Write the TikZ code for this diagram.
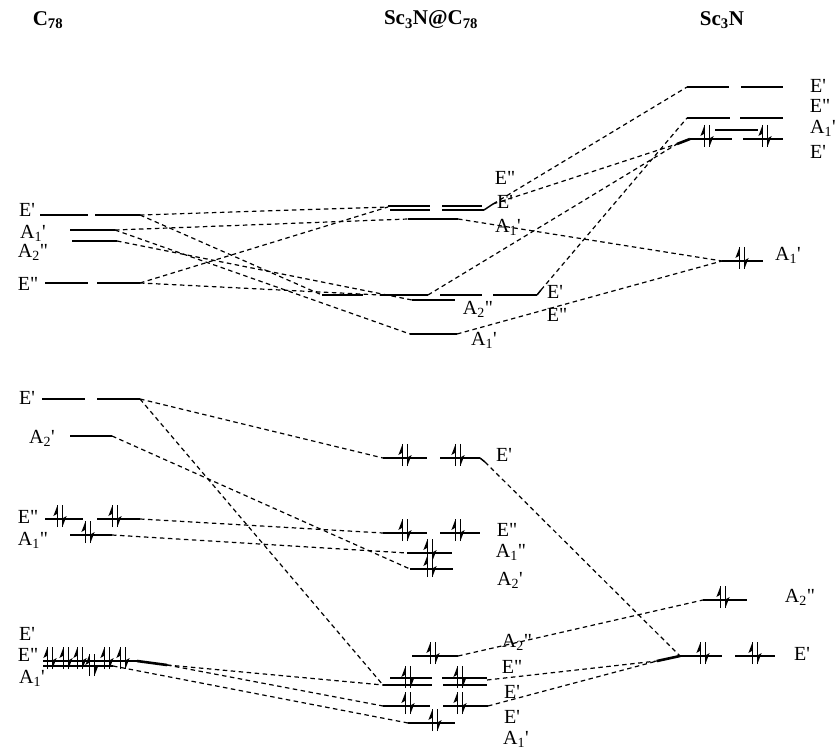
\documentclass[tikz,border=0pt]{standalone}
\usepackage{fontspec}
\setmainfont{Liberation Serif}[Ligatures=TeXOff]
\newcommand\pr{'}
\newcommand\ppr{"}
\begin{document}
\begin{tikzpicture}[x=1pt,y=-1pt,
  lvl/.style={line width=1.5pt},
  thk/.style={line width=2.6pt},
  conn/.style={line width=1.2pt,dash pattern=on 4.5pt off 3.5pt},
  lab/.style={font=\fontsize{20}{21}\selectfont,inner sep=0pt},
  hdr/.style={font=\fontsize{21}{22}\selectfont\bfseries,inner sep=0pt},
  epair/.pic={
    \draw[line width=1.2pt] (-2.4,8) -- (-2.4,-14);
    \fill (-2.4,-14) -- (-6.6,-3) -- (-2.4,-5.5) -- cycle;
    \draw[line width=1.2pt] (2.4,-14) -- (2.4,8);
    \fill (2.4,8) -- (6.6,-3) -- (2.4,-0.5) -- cycle;
  }]
\useasboundingbox (0,0) rectangle (836,751);
% headers
\node[hdr] (h1) at (48,20) {C\textsubscript{78}};
\node[hdr] (h2) at (431,20) {Sc\textsubscript{3}N@C\textsubscript{78}};
\node[hdr] (h3) at (722,20) {Sc\textsubscript{3}N};

% ---------- C78 levels ----------
\draw[lvl] (40,215)--(88,215) (95,215)--(140,215);
\draw[lvl] (70,230)--(115,230);
\draw[lvl] (72,241)--(117,241);
\draw[lvl] (45,283)--(88,283) (97,283)--(140,283);
\draw[lvl] (42,399)--(85,399) (97,399)--(140,399);
\draw[lvl] (70,436)--(112,436);
\draw[lvl] (45,519)--(83,519) (97,519)--(140,519);
\draw[lvl] (70,535)--(112,535);
\draw[lvl] (43,661)--(137,661) (43,666)--(113,666);
\draw[thk] (137,661)--(167,665);
\pic at (60,519) {epair}; \pic at (115,519) {epair}; \pic at (88,535) {epair};
\foreach \x in {50,66,80,107,123} \pic at (\x,661) {epair};
\pic at (92,668) {epair};

\node[lab] (l1) at (27,210) {E\pr};
\node[lab] (l2) at (33,233) {A\textsubscript{1}\pr};
\node[lab] (l3) at (33,252) {A\textsubscript{2}\ppr};
\node[lab] (l4) at (28,284) {E\ppr};
\node[lab] (l5) at (27,398) {E\pr};
\node[lab] (l6) at (42,438) {A\textsubscript{2}\pr};
\node[lab] (l7) at (28,517) {E\ppr};
\node[lab] (l8) at (33,540) {A\textsubscript{1}\ppr};
\node[lab] (l9) at (27,634) {E\pr};
\node[lab] (l10) at (28,655) {E\ppr};
\node[lab] (l11) at (32,678) {A\textsubscript{1}\pr};

% ---------- Sc3N@C78 levels ----------
\draw[lvl] (388,206)--(430,206) (442,206)--(482,206);
\draw[lvl] (390,210)--(430,210) (442,210)--(484,210);
\draw[lvl] (484,210)--(493,204);
\draw[lvl] (408,219)--(458,219);
\draw[lvl] (322,295)--(363,295) (380,295)--(428,295) (440,295)--(482,295) (493,295)--(537,295);
\draw[lvl] (537,295)--(541,290);
\draw[lvl] (412,300)--(455,300);
\draw[lvl] (410,334)--(457,334);
\draw[lvl] (383,458)--(427,458) (440,458)--(480,458);
\draw[lvl] (480,458)--(485,462);
\draw[lvl] (383,533)--(427,533) (440,533)--(480,533);
\draw[lvl] (407,553)--(452,553);
\draw[lvl] (410,569)--(453,569);
\draw[lvl] (412,656)--(458,656);
\draw[lvl] (390,678)--(432,678) (442,678)--(487,678);
\draw[lvl] (383,685)--(432,685) (443,685)--(487,685);
\draw[lvl] (383,706)--(430,706) (443,706)--(488,706);
\draw[lvl] (408,723)--(455,723);
\pic at (405,458) {epair}; \pic at (458,458) {epair};
\pic at (405,533) {epair}; \pic at (458,533) {epair};
\pic at (430,553) {epair}; \pic at (430,569) {epair};
\pic at (433,656) {epair};
\pic at (408,680) {epair}; \pic at (408,706) {epair};
\pic at (460,680) {epair}; \pic at (460,706) {epair};
\pic at (435,723) {epair};

\node[lab] (m1) at (505,178) {E\ppr};
\node[lab] (m2) at (505,202) {E\pr};
\node[lab] (m3) at (508,227) {A\textsubscript{1}\pr};
\node[lab] (m4) at (555,292) {E\pr};
\node[lab] (m5) at (557,315) {E\ppr};
\node[lab] (m6) at (478,309) {A\textsubscript{2}\ppr};
\node[lab] (m7) at (484,340) {A\textsubscript{1}\pr};
\node[lab] (m8) at (504,455) {E\pr};
\node[lab] (m9) at (507,530) {E\ppr};
\node[lab] (m10) at (511,552) {A\textsubscript{1}\ppr};
\node[lab] (m11) at (510,580) {A\textsubscript{2}\pr};
\node[lab] (m12) at (517,642) {A\textsubscript{2}\ppr};
\node[lab] (m13) at (512,667) {E\ppr};
\node[lab] (m14) at (512,692) {E\pr};
\node[lab] (m15) at (512,717) {E\pr};
\node[lab] (m16) at (516,739) {A\textsubscript{1}\pr};

% ---------- Sc3N levels ----------
\draw[lvl] (687,87)--(729,87) (741,87)--(783,87);
\draw[lvl] (687,118)--(730,118) (740,118)--(783,118);
\draw[lvl] (715,130)--(758,130);
\draw[lvl] (690,139)--(732,139) (743,139)--(783,139);
\draw[thk] (677,144)--(690,139);
\draw[lvl] (722,261)--(763,261);
\draw[lvl] (703,600)--(747,600);
\draw[lvl] (680,656)--(722,656) (735,656)--(775,656);
\draw[thk] (657,661)--(680,656);
\pic at (707,139) {epair}; \pic at (765,139) {epair};
\pic at (742,261) {epair};
\pic at (723,600) {epair};
\pic at (703,656) {epair}; \pic at (755,656) {epair};

\node[lab] (s1) at (818,86) {E\pr};
\node[lab] (s2) at (820,106) {E\ppr};
\node[lab] (s3) at (823,128) {A\textsubscript{1}\pr};
\node[lab] (s4) at (818,152) {E\pr};
\node[lab] (s5) at (788,255) {A\textsubscript{1}\pr};
\node[lab] (s6) at (800,597) {A\textsubscript{2}\ppr};
\node[lab] (s7) at (802,654) {E\pr};

% ---------- connector end points ----------
\coordinate (cEa) at (140,215);
\coordinate (cA1a) at (115,230);
\coordinate (cA2a) at (117,241);
\coordinate (cEb) at (140,283);
\coordinate (cEc) at (140,399);
\coordinate (cA2b) at (112,436);
\coordinate (cEd) at (140,519);
\coordinate (cA1b) at (112,535);
\coordinate (cEe) at (167,665);
\coordinate (cA1c) at (113,666);

\coordinate (mEup) at (388,207);
\coordinate (mEupR) at (493,204);
\coordinate (mA1up) at (408,219);
\coordinate (mA1upR) at (458,219);
\coordinate (mEmidL) at (322,295);
\coordinate (mEmidB) at (380,295);
\coordinate (mEmidC) at (428,295);
\coordinate (mEmidR) at (541,290);
\coordinate (mA2mid) at (412,300);
\coordinate (mA1low) at (410,334);
\coordinate (mA1lowR) at (457,334);
\coordinate (mE1) at (383,458);
\coordinate (mE1R) at (485,462);
\coordinate (mE2) at (383,533);
\coordinate (mA1pp) at (407,553);
\coordinate (mA2p) at (410,569);
\coordinate (mA2ppR) at (458,656);
\coordinate (mE3) at (383,685);
\coordinate (mE3R) at (487,680);
\coordinate (mE4) at (383,706);
\coordinate (mE4R) at (488,706);
\coordinate (mA1bot) at (408,723);

\coordinate (sEtop) at (687,87);
\coordinate (sEpp) at (687,118);
\coordinate (sEocc) at (677,144);
\coordinate (sA1) at (722,261);
\coordinate (sA2) at (703,600);
\coordinate (sE) at (680,656);
\coordinate (sEk) at (657,661);

% ---------- connectors ----------
\draw[conn] (cEa) -- (mEup);
\draw[conn] (cA1a) -- (mA1up);
\draw[conn] (cEb) -- (mEup);
\draw[conn] (cEb) -- (mEmidB);
\draw[conn] (cEa) -- (mEmidL);
\draw[conn] (cA1a) -- (mA1low);
\draw[conn] (cA2a) -- (mA2mid);
\draw[conn] (mEupR) -- (sEtop);
\draw[conn] (mEupR) -- (sEocc);
\draw[conn] (mA1upR) -- (sA1);
\draw[conn] (mEmidC) -- (sEocc);
\draw[conn] (mEmidR) -- (sEpp);
\draw[conn] (mA1lowR) -- (sA1);

\draw[conn] (cEc) -- (mE1);
\draw[conn] (cEc) -- (mE3);
\draw[conn] (cA2b) -- (mA2p);
\draw[conn] (cEd) -- (mE2);
\draw[conn] (cA1b) -- (mA1pp);
\draw[conn] (mE1R) -- (sE);
\draw[conn] (cEe) -- (mE3);
\draw[conn] (cEe) -- (mE4);
\draw[conn] (cA1c) -- (mA1bot);
\draw[conn] (mA2ppR) -- (sA2);
\draw[conn] (mE3R) -- (sEk);
\draw[conn] (mE4R) -- (sEk);
\end{tikzpicture}
\end{document}
